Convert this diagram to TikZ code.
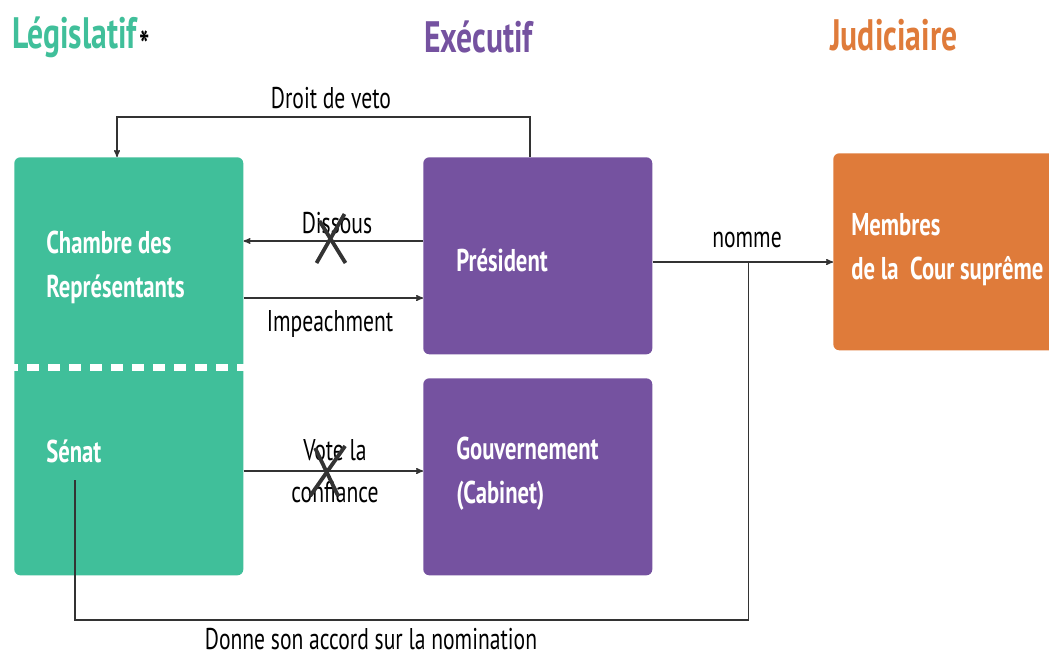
\documentclass[tikz,border=0pt]{standalone}
\usepackage{fontspec}
\setmainfont{PT Sans}[FakeStretch=0.72]
\usepackage{tikz}
\usetikzlibrary{arrows}
\usetikzlibrary{calc}
\tikzset{>=stealth'}
\definecolor{legisgreen}{HTML}{40BF9A}
\definecolor{execpurple}{HTML}{7552A0}
\definecolor{judorange}{HTML}{DF7B3A}
\definecolor{linegray}{HTML}{333333}

\begin{document}
\begin{tikzpicture}[x=1pt,y=-1pt,semithick]
  \tikzstyle{branch}=[draw=none,rounded corners=6pt,inner sep=0pt,anchor=north west]
  \tikzstyle{boxtext}=[anchor=west,align=left,text=white,font=\fontsize{31.5}{44}\selectfont\bfseries,inner sep=0pt]
  \tikzstyle{title}=[anchor=west,inner sep=0pt,font=\fontsize{44}{50}\selectfont\bfseries]
  \tikzstyle{lbl}=[inner sep=0pt,font=\fontsize{30}{42}\selectfont,text=black]
  \tikzstyle{conn}=[draw=linegray,line width=1.4pt]
  \tikzstyle{cross}=[draw=linegray,line width=3.8pt]
  \useasboundingbox (0,0) rectangle (1049,657);

  % titles
  \node[title,text=legisgreen] (tleg) at (12,37) {Législatif};
  \node[anchor=base west,inner sep=0pt,font=\fontsize{38}{38}\selectfont\bfseries] (star) at (139,58) {*};
  \node[title,text=execpurple] (texe) at (424,37) {Exécutif};
  \node[title,text=judorange] (tjud) at (830,35) {Judiciaire};

  % boxes
  \node[branch,fill=legisgreen,minimum width=229pt,minimum height=418pt] (legis) at (14,157) {};
  \node[branch,fill=execpurple,minimum width=229pt,minimum height=197pt] (pres) at (423,157) {};
  \node[branch,fill=execpurple,minimum width=229pt,minimum height=197pt] (gouv) at (423,378) {};
  \node[branch,fill=judorange,minimum width=240pt,minimum height=197pt] (cour) at (833,153) {};
  \draw[white,line width=7pt,dash pattern=on 12pt off 9pt,dash phase=8pt]
    (legis.west |- 0,367) -- (legis.east |- 0,367);

  % box texts
  \node[boxtext] (chambre) at (46,267) {Chambre des\\Représentants};
  \node[boxtext] (senat) at (46,451) {Sénat};
  \node[boxtext] (presT) at (456,260) {Président};
  \node[boxtext] (gouvT) at (456,474) {Gouvernement\\(Cabinet)};
  \node[boxtext] (courT) at (851,250) {Membres\\de la\ \ Cour suprême};

  % connectors
  \draw[conn,->] ($(pres.north west)+(107,0)$) |- ++(0,-40) coordinate (vetoR)
    -| ($(legis.north west)+(103,0)$) coordinate (vetoL);
  \node[lbl] (veto) at (331,98) {Droit de veto};

  \draw[conn,->] (pres.west |- 0,241) -- (legis.east |- 0,241) coordinate[pos=0.51] (dis);
  \node[lbl] (disT) at (337,223) {Dissous};
  \draw[cross] ($(dis)+(-12,-20)$) -- ($(dis)+(14,22)$);
  \draw[cross] ($(dis)+(13,-27)$) -- ($(dis)+(-15,22)$);

  \draw[conn,->] (legis.east |- 0,298) -- (pres.west |- 0,298);
  \node[lbl] (impT) at (330,324) {Impeachment};

  \draw[conn,->] (legis.east |- 0,471) -- (gouv.west |- 0,471) coordinate[pos=0.46] (vot);
  \node[lbl,align=center] (votT) at (335,471) {Vote la\\confiance};
  \draw[cross] ($(vot)+(-11,-23)$) -- ($(vot)+(12,25)$);
  \draw[cross] ($(vot)+(19,-25)$) -- ($(vot)+(-16,25)$);

  \draw[conn,->] (pres.east |- 0,262) -- (cour.west |- 0,262) coordinate[pos=0.53] (nom);
  \node[lbl] (nomT) at (747,240) {nomme};

  \draw[conn] (nom) -- ++(0,358) -| (75,480) coordinate (senatB);
  \node[lbl] (accT) at (371,639) {Donne son accord sur la nomination};
\end{tikzpicture}
\end{document}
